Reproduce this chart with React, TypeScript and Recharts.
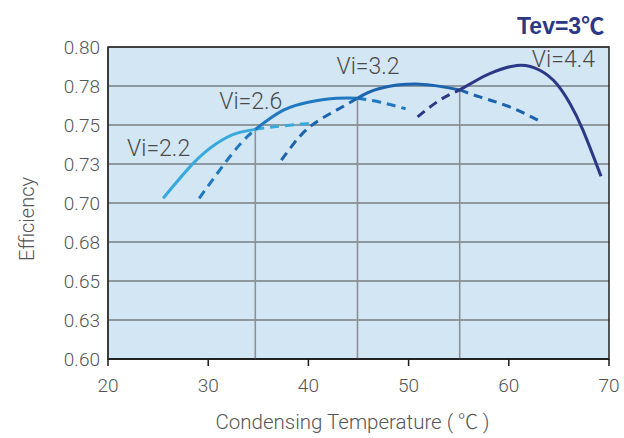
import { LineChart, Line, XAxis, YAxis, CartesianGrid, ReferenceLine, ReferenceDot, ReferenceArea } from 'recharts'

const tempTicks = [20, 30, 40, 50, 60, 70]
const effTicks = [0.6, 0.625, 0.65, 0.675, 0.7, 0.725, 0.75, 0.775, 0.8]
const effTickLabels = ['0.60', '0.63', '0.65', '0.68', '0.70', '0.73', '0.75', '0.78', '0.80']

// Vi=2.2
const vi22Solid = [
	{ t: 25.5, e: 0.703 },
	{ t: 28.5, e: 0.7254 },
	{ t: 30.8, e: 0.738 },
	{ t: 32.8, e: 0.7446 },
	{ t: 34.7, e: 0.7472 },
]
const vi22Dashed = [
	{ t: 34.7, e: 0.7472 },
	{ t: 36.8, e: 0.749 },
	{ t: 40.8, e: 0.7514 },
]

// Vi=2.6
const vi26DashedLow = [
	{ t: 29.1, e: 0.703 },
	{ t: 31.15, e: 0.7211 },
	{ t: 33.1, e: 0.7371 },
	{ t: 34.7, e: 0.7472 },
]
const vi26Solid = [
	{ t: 34.7, e: 0.7472 },
	{ t: 37.5, e: 0.7595 },
	{ t: 40.1, e: 0.7648 },
	{ t: 42.5, e: 0.767 },
	{ t: 44.9, e: 0.7672 },
]
const vi26DashedHigh = [
	{ t: 44.9, e: 0.7672 },
	{ t: 47.2, e: 0.7646 },
	{ t: 49.7, e: 0.7604 },
]

// Vi=3.2
const vi32DashedLow = [
	{ t: 37.3, e: 0.7275 },
	{ t: 39.1, e: 0.7424 },
	{ t: 40.8, e: 0.752 },
	{ t: 42.8, e: 0.7595 },
	{ t: 44.9, e: 0.7672 },
]
const vi32Solid = [
	{ t: 44.9, e: 0.7672 },
	{ t: 47.1, e: 0.7734 },
	{ t: 51.1, e: 0.7762 },
	{ t: 55.1, e: 0.7725 },
]
const vi32DashedHigh = [
	{ t: 55.1, e: 0.7725 },
	{ t: 57.1, e: 0.768 },
	{ t: 60.1, e: 0.7616 },
	{ t: 63.4, e: 0.7514 },
]

// Vi=4.4
const vi44Dashed = [
	{ t: 50.9, e: 0.7552 },
	{ t: 53.1, e: 0.7659 },
	{ t: 55.1, e: 0.7725 },
]
const vi44Solid = [
	{ t: 55.1, e: 0.7725 },
	{ t: 57.1, e: 0.7798 },
	{ t: 58.1, e: 0.783 },
	{ t: 60.8, e: 0.7882 },
	{ t: 63.1, e: 0.7851 },
	{ t: 64.75, e: 0.7766 },
	{ t: 66.1, e: 0.7638 },
	{ t: 67.4, e: 0.7467 },
	{ t: 69.2, e: 0.7172 },
]

// crossover markers
const crossTemps = [34.7, 44.9, 55.1]
const crossEffs = [0.7472, 0.7672, 0.7725]

const curveLabels = ['Vi=2.2', 'Vi=2.6', 'Vi=3.2', 'Vi=4.4']
const curveLabelTemps = [21.9, 31.1, 42.8, 62.3]
const curveLabelEffs = [0.7352, 0.7655, 0.7878, 0.7926]

const c22 = '#38a9dd'
const c26 = '#1f78c0'
const c32 = '#1c63ae'
const c44 = '#2b3886'

const font = 'Roboto, "Liberation Sans", sans-serif'
const cjk = '"Noto Sans CJK SC", sans-serif'
const textGray = '#555555'
const dash = '9 6'

const segments = [
	{ data: vi22Solid, color: c22, dashed: false },
	{ data: vi22Dashed, color: c22, dashed: true },
	{ data: vi26DashedLow, color: c26, dashed: true },
	{ data: vi26Solid, color: c26, dashed: false },
	{ data: vi26DashedHigh, color: c26, dashed: true },
	{ data: vi32DashedLow, color: c32, dashed: true },
	{ data: vi32Solid, color: c32, dashed: false },
	{ data: vi32DashedHigh, color: c32, dashed: true },
	{ data: vi44Dashed, color: c44, dashed: true },
	{ data: vi44Solid, color: c44, dashed: false },
]

export default function App() {
	return (
		<div style={{ position: 'absolute', left: 0, top: 0, width: 624, height: 438, background: '#fff' }}>
			<div
				style={{
					position: 'absolute',
					left: 517,
					top: 10,
					fontFamily: '"Liberation Sans", Arial, sans-serif',
					fontWeight: 700,
					fontSize: 23,
					color: c44,
					lineHeight: '28px',
				}}
			>
				Tev=3<span style={{ fontFamily: cjk, fontWeight: 700 }}>℃</span>
			</div>
			<LineChart width={624} height={438} margin={{ top: 47, right: 15, bottom: 0, left: 0 }}>
				<CartesianGrid vertical={false} stroke="#4a4a4a" strokeWidth={1.2} fill="#d2e6f4" fillOpacity={1} />
				<XAxis
					type="number"
					dataKey="t"
					domain={[20, 70]}
					ticks={tempTicks}
					allowDuplicatedCategory={false}
					height={79}
					stroke="#1a1a1a"
					strokeWidth={1.5}
					tickSize={7}
					tickMargin={13}
					tick={{ fill: textGray, fontSize: 19, fontFamily: font, fontWeight: 300 }}
					label={{
						content: ({ viewBox }: any) => (
							<text
								x={viewBox.x + viewBox.width / 2 - 6}
								y={viewBox.y + viewBox.height - 9}
								textAnchor="middle"
								fill={textGray}
								fontSize={20.5}
								fontFamily={font}
								fontWeight={300}
							>
								Condensing Temperature (<tspan fontFamily={cjk} fontWeight={300}> ℃ </tspan>)
							</text>
						),
					}}
				/>
				<YAxis
					type="number"
					dataKey="e"
					domain={[0.6, 0.8]}
					ticks={effTicks}
					width={108}
					stroke="#333"
					strokeWidth={1.5}
					tickLine={false}
					tickSize={6}
					tickMargin={2}
					tickFormatter={(v, i) => effTickLabels[i] ?? String(v)}
					tick={{ fill: textGray, fontSize: 19, fontFamily: font, fontWeight: 300 }}
					label={{
						content: ({ viewBox }: any) => (
							<text
								transform={`translate(${viewBox.x + 34}, ${viewBox.y + viewBox.height / 2 + 16}) rotate(-90)`}
								textAnchor="middle"
								fill={textGray}
								fontSize={20}
								fontFamily={font}
								fontWeight={300}
							>
								Efficiency
							</text>
						),
					}}
				/>
				<ReferenceArea x1={20} x2={70} y1={0.6} y2={0.8} fill="none" stroke="#222" strokeWidth={1.5} />
				{crossTemps.map((t, i) => (
					<ReferenceLine
						key={'v' + i}
						segment={[
							{ x: t, y: crossEffs[i] },
							{ x: t, y: 0.6 },
						]}
						stroke="#8c9196"
						strokeWidth={1.6}
					/>
				))}
				{segments.map((s, i) => (
					<Line
						key={'s' + i}
						data={s.data}
						dataKey="e"
						type="natural"
						stroke={s.color}
						strokeWidth={3}
						strokeDasharray={s.dashed ? dash : undefined}
						dot={false}
						activeDot={false}
						isAnimationActive={false}
					/>
				))}
				{curveLabels.map((name, i) => (
					<ReferenceDot
						key={'l' + i}
						x={curveLabelTemps[i]}
						y={curveLabelEffs[i]}
						r={0}
						stroke="none"
						label={{
							value: name,
							position: 'right',
							offset: 0,
							fill: '#4a4a4a',
							fontSize: 23,
							fontFamily: font,
							fontWeight: 300,
						}}
					/>
				))}
			</LineChart>
		</div>
	)
}
